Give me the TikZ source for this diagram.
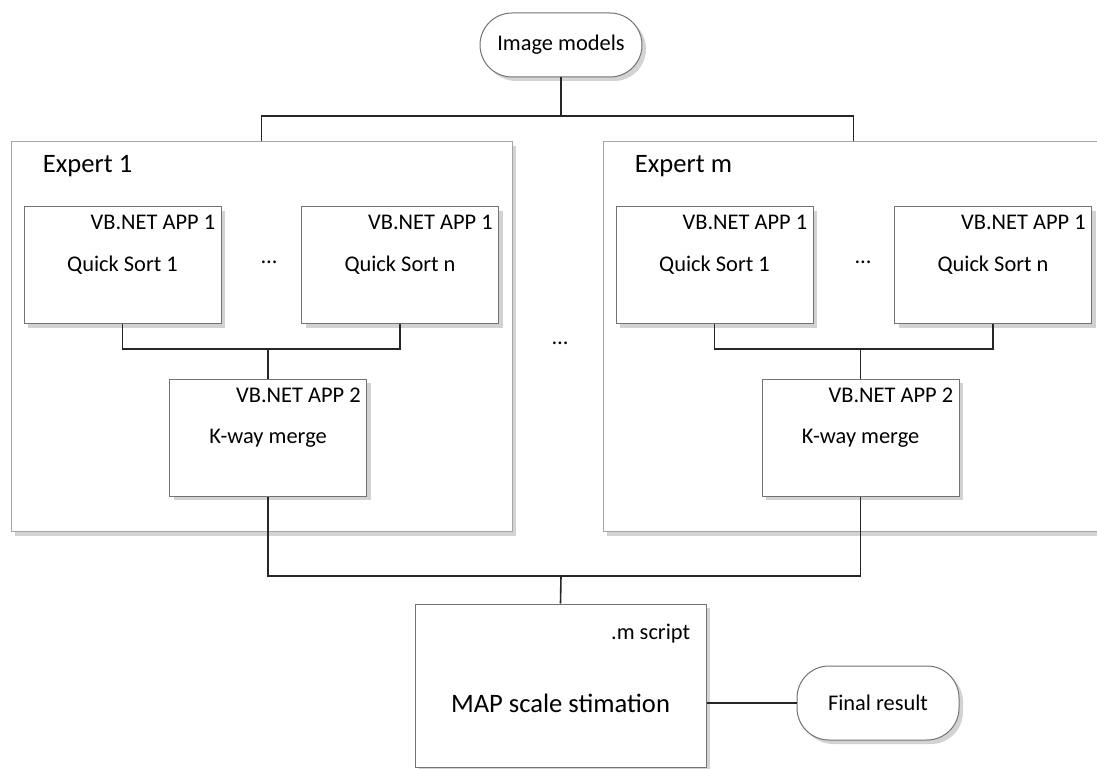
\documentclass[tikz,border=0pt]{standalone}
\usepackage{fontspec}
\setmainfont{Carlito}
\usetikzlibrary{shadows,positioning}

\begin{document}
\begin{tikzpicture}[x=0.5pt,y=-0.5pt,
    line/.style={draw=black!85,line width=0.8pt},
    box/.style={rectangle,draw=black!55,line width=0.5pt,fill=white,
      drop shadow={opacity=0.35,shadow xshift=2pt,shadow yshift=-2pt},
      minimum width=98.5pt,minimum height=58.5pt,font=\fontsize{11.2}{13}\selectfont},
    expert/.style={box,draw=black!35,minimum width=250.5pt,minimum height=195pt},
    term/.style={box,rounded corners=16pt},
    tag/.style={anchor=east,inner sep=0pt,xshift=-3pt,yshift=-8pt,font=\fontsize{11.2}{13}\selectfont},
    head/.style={anchor=west,inner sep=0pt,xshift=16pt,yshift=-12.5pt,font=\fontsize{13.3}{16}\selectfont}]

  \useasboundingbox (0,0) rectangle (1097,769);

  \node[term,minimum width=81pt,minimum height=32pt] (models) at (561,45) {Image models};

  % the two expert panels
  \node[expert,label={[head]north west:Expert 1}] (expert1) at (261.5,337) {};
  \node[expert,label={[head]north west:Expert m}] (expertm) at (853.5,337) {};

  \node[box,label={[tag]north east:VB.NET APP 1}] (sort11) at (122.5,265.5) {Quick Sort 1};
  \node[box,label={[tag]north east:VB.NET APP 1}] (sort1n) at (400,265.5) {Quick Sort n};
  \node[box,label={[tag]north east:VB.NET APP 2}] (merge1) at (268,438) {K-way merge};
  \node[font=\fontsize{11.2}{13}\selectfont] (dots1) at (269,262) {\dots};

  \node[box,label={[tag]north east:VB.NET APP 1}] (sortm1) at (714.5,265.5) {Quick Sort 1};
  \node[box,label={[tag]north east:VB.NET APP 1}] (sortmn) at (993,265.5) {Quick Sort n};
  \node[box,label={[tag]north east:VB.NET APP 2}] (mergem) at (860.5,438) {K-way merge};
  \node[font=\fontsize{11.2}{13}\selectfont] (dotsm) at (863,262) {\dots};

  \node[font=\fontsize{11.2}{13}\selectfont] (dotsmid) at (560,343) {\dots};

  % final stage
  \node[box,minimum width=145.5pt,minimum height=81.5pt,
        label={[tag,xshift=-5pt,yshift=-7pt]north east:.m script}] (estim) at (560.5,685.5) {};
  \node[term,minimum width=81pt,minimum height=37pt] (final) at (878,703) {Final result};
  \node[font=\fontsize{13.3}{16}\selectfont] (estimtext) at (estim.center |- final) {MAP scale stimation};

  \coordinate (topfork) at (561,116);
  \coordinate (fork1) at (268,349);
  \coordinate (forkm) at (860.5,349);
  \coordinate (botfork) at (561,576);

  \draw[line] (models.south) -- (topfork);
  \draw[line] (expert1.north) |- (topfork) -| (expertm.north);
  \draw[line] (sort11.south) |- (fork1) -| (sort1n.south);
  \draw[line] (fork1) -- (merge1.north);
  \draw[line] (sortm1.south) |- (forkm) -| (sortmn.south);
  \draw[line] (forkm) -- (mergem.north);
  \draw[line] (merge1.south) |- (botfork) -| (mergem.south);
  \draw[line] (botfork) -- (estim.north);
  \draw[line] (final -| estim.east) -- (final.west);
\end{tikzpicture}
\end{document}
